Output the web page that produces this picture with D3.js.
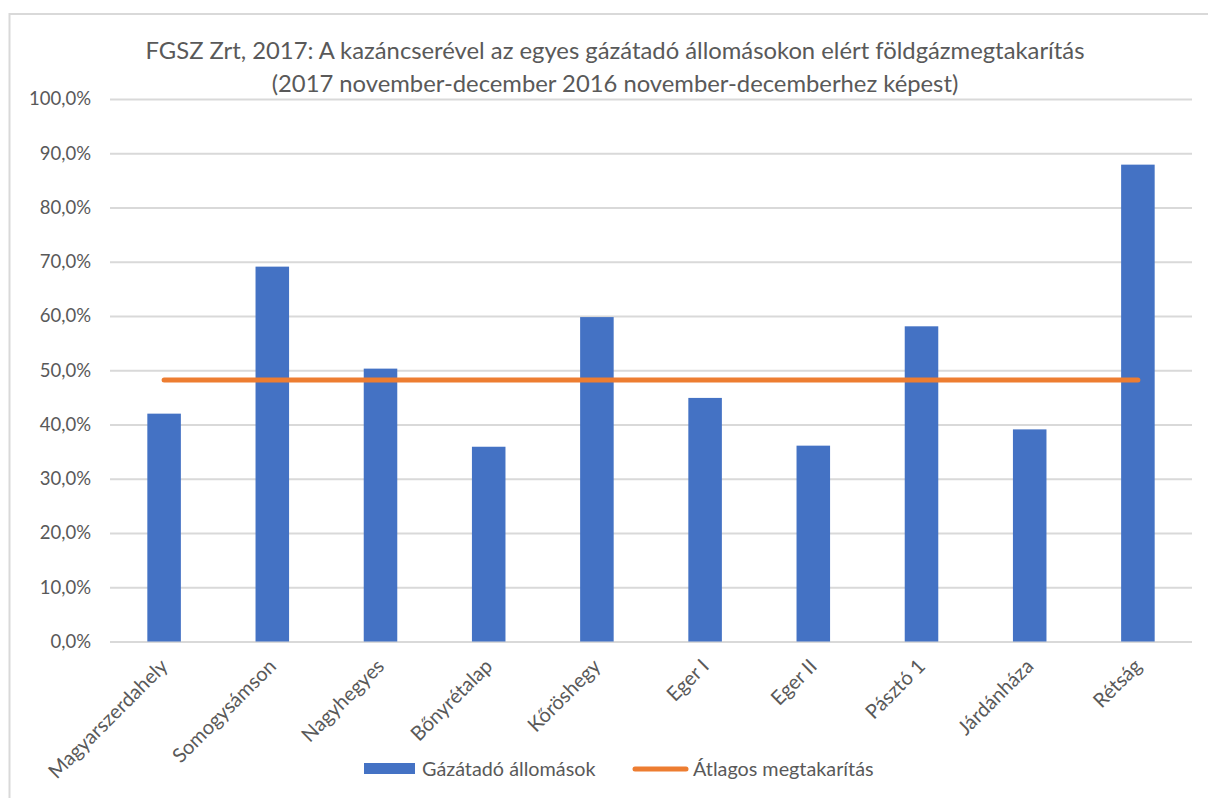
<!DOCTYPE html>
<html>
<head>
<meta charset="utf-8">
<script src="https://cdn.jsdelivr.net/npm/d3@7"></script>
<style>
  body { margin: 0; background: #fff; }
  svg { display: block; font-family: Lato, "Open Sans", sans-serif; }
</style>
</head>
<body>
<svg id="chart" width="1208" height="798"></svg>
<script>
const categories = ["Magyarszerdahely", "Somogysámson", "Nagyhegyes", "Bőnyrétalap", "Kőröshegy", "Eger I", "Eger II", "Pásztó 1", "Járdánháza", "Rétság"];
const stationValues = [42.0, 69.1, 50.3, 35.9, 59.8, 44.9, 36.1, 58.1, 39.1, 87.9];
const averageValue = 48.2;
const yTicks = [0, 10, 20, 30, 40, 50, 60, 70, 80, 90, 100];
const titleLines = ["FGSZ Zrt, 2017: A kazáncserével az egyes gázátadó állomásokon elért földgázmegtakarítás", "(2017 november-december 2016 november-decemberhez képest)"];
const seriesNames = ["Gázátadó állomások", "Átlagos megtakarítás"];
const colors = { bar: "#4472C4", line: "#ED7D31", grid: "#D9D9D9", text: "#595959" };

const svg = d3.select("#chart");
const W = 1208, H = 798;
const margin = { left: 110, right: 16, top: 99, bottom: 156.5 };

// outer frame
svg.append("rect").attr("x", 9.5).attr("y", 14).attr("width", 1220).attr("height", 820)
  .attr("fill", "#fff").attr("stroke", "#D9D9D9").attr("stroke-width", 2);

const x = d3.scaleBand().domain(categories).range([margin.left, W - margin.right]).paddingInner(0.69).paddingOuter(0.345);
const y = d3.scaleLinear().domain([0, 100]).range([H - margin.bottom, margin.top]);

// title
const title = svg.append("text").attr("text-anchor", "middle").attr("fill", colors.text).style("font-size", "23.8px");
titleLines.forEach((t, i) => title.append("tspan").attr("x", 615).attr("y", 59 + i * 33).text(t));

// y axis gridlines + labels
const yAxis = d3.axisLeft(y).tickValues(yTicks).tickSize(-(W - margin.right - margin.left))
  .tickFormat(d => d3.format(".1f")(d).replace(".", ",") + "%").tickPadding(19);
const gy = svg.append("g").attr("transform", `translate(${margin.left},0)`).call(yAxis);
gy.select(".domain").remove();
gy.selectAll(".tick line").attr("stroke", colors.grid).attr("stroke-width", 2);
gy.selectAll(".tick text").attr("fill", colors.text).style("font-size", "18.5px").style("font-family", "Lato, sans-serif");

// bars
svg.append("g").selectAll("rect").data(categories).join("rect")
  .attr("x", d => x(d)).attr("width", x.bandwidth())
  .attr("y", (d, i) => y(stationValues[i]))
  .attr("height", (d, i) => y(0) - y(stationValues[i]))
  .attr("fill", colors.bar);

// average line
const line = d3.line().x(d => x(d) + x.bandwidth() / 2).y(() => y(averageValue));
svg.append("path").datum(categories).attr("d", line)
  .attr("fill", "none").attr("stroke", colors.line).attr("stroke-width", 5).attr("stroke-linecap", "round");

// x axis labels
const xAxis = d3.axisBottom(x).tickSize(0).tickPadding(0);
const gx = svg.append("g").attr("transform", `translate(0,${y(0)})`).call(xAxis);
gx.select(".domain").remove();
gx.selectAll(".tick text")
  .attr("fill", colors.text).style("font-size", "20px").style("font-family", "Lato, sans-serif")
  .attr("text-anchor", "end").attr("dy", null).attr("y", 0)
  .attr("transform", "translate(5,26) rotate(-45)");

// legend
const lg = svg.append("g");
lg.append("rect").attr("x", 364).attr("y", 763).attr("width", 51).attr("height", 11).attr("fill", colors.bar);
lg.append("text").attr("x", 422).attr("y", 776).attr("fill", colors.text).style("font-size", "19.8px").text(seriesNames[0]);
lg.append("line").attr("x1", 635).attr("x2", 686).attr("y1", 769).attr("y2", 769)
  .attr("stroke", colors.line).attr("stroke-width", 5).attr("stroke-linecap", "round");
lg.append("text").attr("x", 693).attr("y", 776).attr("fill", colors.text).style("font-size", "19.8px").text(seriesNames[1]);
</script>
</body>
</html>
